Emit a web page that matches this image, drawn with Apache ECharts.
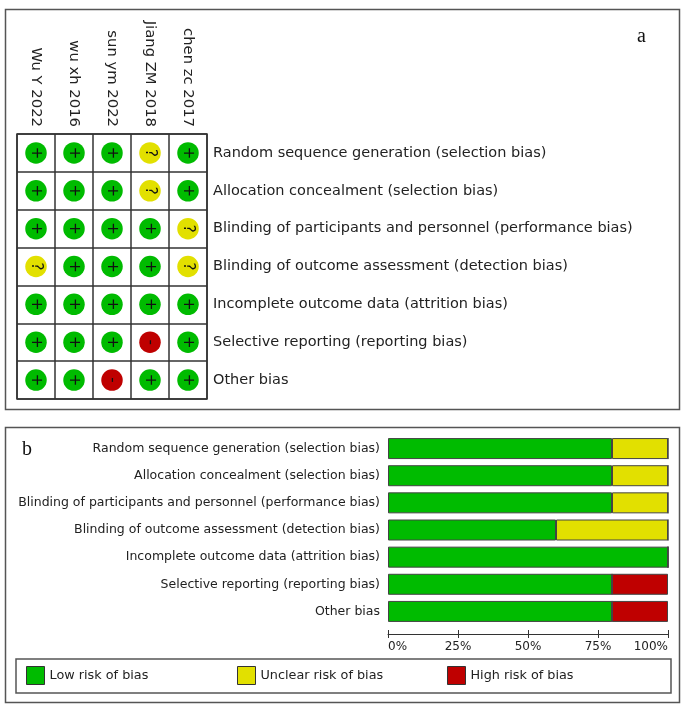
<!DOCTYPE html>
<html><head><meta charset="utf-8">
<style>html,body{margin:0;padding:0;background:#fff}#c{width:685px;height:711px}</style>
<script src="https://cdn.jsdelivr.net/npm/echarts@6/dist/echarts.min.js"></script>
</head><body><div id="c"></div>
<script>
const studies = ['Wu Y 2022','wu xh 2016','sun ym 2022','Jiang ZM 2018','chen zc 2017'];
const domains = [
 'Random sequence generation (selection bias)',
 'Allocation concealment (selection bias)',
 'Blinding of participants and personnel (performance bias)',
 'Blinding of outcome assessment (detection bias)',
 'Incomplete outcome data (attrition bias)',
 'Selective reporting (reporting bias)',
 'Other bias'];
const judgements = [
 ['+','+','+','?','+'],
 ['+','+','+','?','+'],
 ['+','+','+','+','?'],
 ['?','+','+','+','?'],
 ['+','+','+','+','+'],
 ['+','+','+','-','+'],
 ['+','+','-','+','+']];
const lowRisk =     [80,80,80,60,100,80,80];
const unclearRisk = [20,20,20,40,0,0,0];
const highRisk =    [0,0,0,0,0,20,20];
const GREEN='#00bb00', YELLOW='#e2e000', RED='#bf0000';
const colorOf={'+':GREEN,'?':YELLOW,'-':RED};
const FONT='DejaVu Sans';
const cells=[];
judgements.forEach((row,r)=>row.forEach((j,c)=>cells.push([c,r,j])));
const barSeries=(name,data,color)=>({name,type:'bar',stack:'a',xAxisIndex:2,yAxisIndex:1,data,barWidth:21,
  itemStyle:{color,borderColor:'#444',borderWidth:1},silent:true,animation:false});
const legendOf=(name,left)=>({data:[{name,icon:'rect'}],left,top:661,itemWidth:18,itemHeight:18,
  textStyle:{fontFamily:FONT,fontSize:12.8,color:'#222'},selectedMode:false,
  itemStyle:{borderColor:'#333',borderWidth:1}});
const chart=echarts.init(document.getElementById('c'),null,{renderer:'canvas'});
chart.setOption({
 animation:false,
 backgroundColor:'#fff',
 title:[
  {text:'a',left:632,top:22,textStyle:{fontFamily:'Liberation Serif',fontSize:20,fontWeight:'normal',color:'#111'}},
  {text:'b',left:17,top:435,textStyle:{fontFamily:'Liberation Serif',fontSize:20,fontWeight:'normal',color:'#111'}}],
 graphic:[
  {type:'rect',z:-1,shape:{x:5.5,y:9.5,width:674,height:400},style:{fill:'none',stroke:'#555',lineWidth:1.5}},
  {type:'rect',z:-1,shape:{x:5.5,y:427.5,width:674,height:275},style:{fill:'none',stroke:'#555',lineWidth:1.5}},
  {type:'rect',z:-1,shape:{x:16,y:659,width:655,height:34},style:{fill:'none',stroke:'#555',lineWidth:1.5}}],
 grid:[
  {left:17,top:134,width:190,height:265,show:true,borderColor:'#333',borderWidth:1.5,backgroundColor:'transparent'},
  {left:388,top:435,width:280,height:190}],
 xAxis:[
  {gridIndex:0,type:'category',data:studies,position:'top',axisTick:{show:false},axisLine:{show:false},
   splitLine:{show:true,lineStyle:{color:'#333',width:1.5}},
   axisLabel:{rotate:90,margin:7,fontFamily:FONT,fontSize:14.8,color:'#222',interval:0}},
  {gridIndex:1,type:'value',min:0,max:100,interval:25,position:'bottom',offset:9,
   axisLine:{show:true,lineStyle:{color:'#333'}},axisTick:{show:true,length:4,lineStyle:{color:'#333'}},splitLine:{show:false},
   axisLabel:{formatter:'{value}%',margin:7,fontFamily:FONT,fontSize:12,color:'#222',alignMinLabel:'left',alignMaxLabel:'right',showMinLabel:true,showMaxLabel:true}},
  {gridIndex:1,type:'value',min:0,max:100,interval:25,position:'bottom',offset:9,
   axisLine:{show:false},axisTick:{show:true,inside:true,length:4,lineStyle:{color:'#333'}},splitLine:{show:false},axisLabel:{show:false}}],
 yAxis:[
  {gridIndex:0,type:'category',data:domains,inverse:true,position:'right',axisTick:{show:false},axisLine:{show:false},
   splitLine:{show:true,lineStyle:{color:'#333',width:1.5}},
   axisLabel:{margin:6,fontFamily:FONT,fontSize:14.5,color:'#222',interval:0}},
  {gridIndex:1,type:'category',data:domains,inverse:true,position:'left',axisTick:{show:false},axisLine:{show:false},
   axisLabel:{margin:8,fontFamily:FONT,fontSize:12.5,color:'#222',interval:0}}],
 legend:[legendOf('Low risk of bias',21),legendOf('Unclear risk of bias',232),legendOf('High risk of bias',442)],
 series:[
  {type:'scatter',xAxisIndex:0,yAxisIndex:0,data:cells,symbolSize:21.5,silent:true,
   itemStyle:{opacity:1,color:p=>colorOf[p.value[2]]},
   label:{show:true,position:'inside',rotate:-90,formatter:p=>p.value[2],fontFamily:FONT,fontSize:15,color:'#111'}},
  barSeries('Low risk of bias',lowRisk,GREEN),
  barSeries('Unclear risk of bias',unclearRisk,YELLOW),
  barSeries('High risk of bias',highRisk,RED)]
});
</script></body></html>
